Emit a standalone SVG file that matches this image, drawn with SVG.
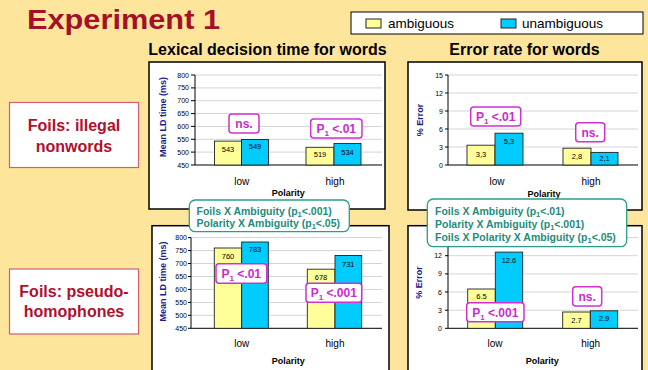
<svg xmlns="http://www.w3.org/2000/svg" width="648" height="370" viewBox="0 0 648 370">
<style>
.bg{fill:#fde69b}
.frame{fill:#fff;stroke:#000;stroke-width:1.5}
.grid{stroke:#d4d4d4;stroke-width:1}
.axis{stroke:#000;stroke-width:1;fill:none}
.ya{fill:#ffff99;stroke:#222;stroke-width:0.9}
.yb{fill:#00ccff;stroke:#222;stroke-width:0.9}
.tick{font-family:"Liberation Sans",Arial,sans-serif;font-size:7px;fill:#000;text-anchor:end}
.val{font-family:"Liberation Sans",Arial,sans-serif;font-size:7.5px;fill:#000;text-anchor:middle}
.cat{font-family:"Liberation Sans",Arial,sans-serif;font-size:10px;fill:#000;text-anchor:middle}
.xl{font-family:"Liberation Sans",Arial,sans-serif;font-size:9px;font-weight:bold;fill:#000;text-anchor:middle}
.yl{font-family:"Liberation Sans",Arial,sans-serif;font-size:9px;font-weight:bold;fill:#1c1c8c;text-anchor:middle}
.sub{font-family:"Liberation Sans",Arial,sans-serif;font-size:16px;font-weight:bold;fill:#000;text-anchor:middle}
.mbox{fill:#fff;stroke:#d030d0;stroke-width:1.5}
.mtxt{font-family:"Liberation Sans",Arial,sans-serif;font-size:12px;font-weight:bold;fill:#cc2acc;text-anchor:middle}
.gbox{fill:#fff;stroke:#2a9d8c;stroke-width:1.3}
.gtxt{font-family:"Liberation Sans",Arial,sans-serif;font-size:10.5px;font-weight:bold;fill:#1e8c7c}
.rbox{fill:#fff;stroke:#d06070;stroke-width:1.2}
.rtxt{font-family:"Liberation Sans",Arial,sans-serif;font-size:16px;font-weight:bold;fill:#b0102c;text-anchor:middle}
.leg{font-family:"Liberation Sans",Arial,sans-serif;font-size:13.5px;fill:#000}
</style>
<rect class="bg" x="0" y="0" width="648" height="370"/>

<g id="title">
<text x="27" y="28.5" font-family="'Liberation Sans',Arial,sans-serif" font-size="28" font-weight="bold" fill="#a4102a" textLength="193" lengthAdjust="spacingAndGlyphs">Experiment 1</text>
</g>

<g id="legend">
<rect x="351" y="12" width="292" height="22" fill="#fff" stroke="#000" stroke-width="1"/>
<rect x="366" y="19" width="15" height="9" fill="#ffff99" stroke="#222" stroke-width="1"/>
<text class="leg" x="388" y="28">ambiguous</text>
<rect x="501" y="19" width="15" height="9" fill="#00ccff" stroke="#222" stroke-width="1"/>
<text class="leg" x="522" y="28">unambiguous</text>
</g>

<g id="subtitles">
<text class="sub" x="267.5" y="55">Lexical decision time for words</text>
<text class="sub" x="524.5" y="55">Error rate for words</text>
</g>

<g id="row-illegal">
<rect class="rbox" x="9.5" y="102.5" width="129" height="65"/>
<text class="rtxt" x="74" y="130.5">Foils: illegal</text>
<text class="rtxt" x="74" y="151.5">nonwords</text>
</g>

<g id="row-pseudo">
<rect class="rbox" x="9.5" y="269" width="129" height="65"/>
<text class="rtxt" x="74" y="296.5">Foils: pseudo-</text>
<text class="rtxt" x="74" y="316.5">homophones</text>
</g>

<!-- Chart 1 -->
<g id="chart-ld-illegal">
<rect class="frame" x="149" y="62" width="236" height="147"/>
<g class="grid">
<line x1="195" y1="152.1" x2="382" y2="152.1"/>
<line x1="195" y1="139.3" x2="382" y2="139.3"/>
<line x1="195" y1="126.4" x2="382" y2="126.4"/>
<line x1="195" y1="113.6" x2="382" y2="113.6"/>
<line x1="195" y1="100.7" x2="382" y2="100.7"/>
<line x1="195" y1="87.9" x2="382" y2="87.9"/>
<line x1="195" y1="75" x2="382" y2="75"/>
</g>
<path class="axis" d="M195,75 V165 H382 M191,75 H195 M191,87.9 H195 M191,100.7 H195 M191,113.6 H195 M191,126.4 H195 M191,139.3 H195 M191,152.1 H195 M191,165 H195"/>
<text class="tick" x="189" y="77.5">800</text>
<text class="tick" x="189" y="90.4">750</text>
<text class="tick" x="189" y="103.2">700</text>
<text class="tick" x="189" y="116.1">650</text>
<text class="tick" x="189" y="128.9">600</text>
<text class="tick" x="189" y="141.8">550</text>
<text class="tick" x="189" y="154.6">500</text>
<text class="tick" x="189" y="167.5">450</text>
<rect class="ya" x="214.5" y="141.1" width="27" height="23.9"/>
<rect class="yb" x="241.5" y="139.5" width="27" height="25.5"/>
<rect class="ya" x="306" y="147.3" width="28" height="17.7"/>
<rect class="yb" x="334" y="143.4" width="27" height="21.6"/>
<text class="val" x="228" y="152">543</text>
<text class="val" x="255" y="148.5">549</text>
<text class="val" x="320" y="157">519</text>
<text class="val" x="347.5" y="154.5">534</text>
<text class="cat" x="241.7" y="184.5">low</text>
<text class="cat" x="335" y="184.5">high</text>
<text class="xl" x="288.3" y="195.5">Polarity</text>
<text class="yl" transform="translate(166,117) rotate(-90)">Mean LD time (ms)</text>
</g>

<!-- Chart 2 -->
<g id="chart-err-illegal">
<rect class="frame" x="408" y="62" width="234" height="148"/>
<g class="grid">
<line x1="448" y1="147" x2="638" y2="147"/>
<line x1="448" y1="129" x2="638" y2="129"/>
<line x1="448" y1="111" x2="638" y2="111"/>
<line x1="448" y1="93" x2="638" y2="93"/>
<line x1="448" y1="75" x2="638" y2="75"/>
</g>
<path class="axis" d="M448,75 V165 H638 M445,75 H448 M445,93 H448 M445,111 H448 M445,129 H448 M445,147 H448 M445,165 H448"/>
<text class="tick" x="443" y="77.5">15</text>
<text class="tick" x="443" y="95.5">12</text>
<text class="tick" x="443" y="113.5">9</text>
<text class="tick" x="443" y="131.5">6</text>
<text class="tick" x="443" y="149.5">3</text>
<text class="tick" x="443" y="167.5">0</text>
<rect class="ya" x="467" y="145.2" width="28" height="19.8"/>
<rect class="yb" x="495" y="133.2" width="28" height="31.8"/>
<rect class="ya" x="563" y="148.2" width="28" height="16.8"/>
<rect class="yb" x="591" y="152.4" width="27" height="12.6"/>
<text class="val" x="481" y="156.5">3,3</text>
<text class="val" x="509" y="143.5">5,3</text>
<text class="val" x="577" y="158.5">2,8</text>
<text class="val" x="604.5" y="161">2,1</text>
<text class="cat" x="497" y="184.5">low</text>
<text class="cat" x="591" y="184.5">high</text>
<text class="xl" x="544" y="196.5">Polarity</text>
<text class="yl" transform="translate(423,120) rotate(-90)">% Error</text>
</g>

<!-- Chart 3 -->
<g id="chart-ld-pseudo">
<rect class="frame" x="152" y="225.7" width="237" height="150"/>
<g class="grid">
<line x1="191" y1="315.3" x2="382" y2="315.3"/>
<line x1="191" y1="302.4" x2="382" y2="302.4"/>
<line x1="191" y1="289.4" x2="382" y2="289.4"/>
<line x1="191" y1="276.5" x2="382" y2="276.5"/>
<line x1="191" y1="263.5" x2="382" y2="263.5"/>
<line x1="191" y1="250.6" x2="382" y2="250.6"/>
<line x1="191" y1="237.6" x2="382" y2="237.6"/>
</g>
<path class="axis" d="M191,237.6 V328.3 H382 M188,237.6 H191 M188,250.6 H191 M188,263.5 H191 M188,276.5 H191 M188,289.4 H191 M188,302.4 H191 M188,315.3 H191 M188,328.3 H191"/>
<text class="tick" x="187" y="240.1">800</text>
<text class="tick" x="187" y="253.1">750</text>
<text class="tick" x="187" y="266">700</text>
<text class="tick" x="187" y="279">650</text>
<text class="tick" x="187" y="291.9">600</text>
<text class="tick" x="187" y="304.9">550</text>
<text class="tick" x="187" y="317.8">500</text>
<text class="tick" x="187" y="330.8">450</text>
<rect class="ya" x="214.3" y="248" width="27.4" height="80.3"/>
<rect class="yb" x="241.7" y="242" width="26.6" height="86.3"/>
<rect class="ya" x="307.3" y="269.2" width="27.7" height="59.1"/>
<rect class="yb" x="335" y="255.5" width="26.7" height="72.8"/>
<text class="val" x="228" y="258.5">760</text>
<text class="val" x="255" y="252">783</text>
<text class="val" x="321" y="279.5">678</text>
<text class="val" x="348.3" y="266.5">731</text>
<text class="cat" x="241.7" y="346.5">low</text>
<text class="cat" x="335" y="346.5">high</text>
<text class="xl" x="288.3" y="364">Polarity</text>
<text class="yl" transform="translate(165.5,281.5) rotate(-90)">Mean LD time (ms)</text>
</g>

<!-- Chart 4 -->
<g id="chart-err-pseudo">
<rect class="frame" x="408" y="225.7" width="234" height="150"/>
<g class="grid">
<line x1="448" y1="310.2" x2="638" y2="310.2"/>
<line x1="448" y1="292" x2="638" y2="292"/>
<line x1="448" y1="273.9" x2="638" y2="273.9"/>
<line x1="448" y1="255.7" x2="638" y2="255.7"/>
<line x1="448" y1="237.5" x2="638" y2="237.5"/>
</g>
<path class="axis" d="M448,237.5 V328.3 H638 M445,237.5 H448 M445,255.7 H448 M445,273.9 H448 M445,292 H448 M445,310.2 H448 M445,328.3 H448"/>
<text class="tick" x="442" y="258.2">12</text>
<text class="tick" x="442" y="276.4">9</text>
<text class="tick" x="442" y="294.5">6</text>
<text class="tick" x="442" y="312.7">3</text>
<text class="tick" x="442" y="330.8">0</text>
<rect class="ya" x="467.7" y="289" width="27.6" height="39.3"/>
<rect class="yb" x="495.3" y="252.1" width="27.4" height="76.2"/>
<rect class="ya" x="562.7" y="312" width="27.6" height="16.3"/>
<rect class="yb" x="590.3" y="310.8" width="27.4" height="17.5"/>
<text class="val" x="481.5" y="298.5">6.5</text>
<text class="val" x="509" y="262.5">12.6</text>
<text class="val" x="576.5" y="323.3">2.7</text>
<text class="val" x="604" y="321">2.9</text>
<text class="cat" x="495" y="346.5">low</text>
<text class="cat" x="590.7" y="346.5">high</text>
<text class="xl" x="542.3" y="364">Polarity</text>
<text class="yl" transform="translate(422,282.5) rotate(-90)">% Error</text>
</g>

<!-- significance annotations -->
<g id="ann-c1-low">
<rect class="mbox" x="229" y="114" width="30" height="19" rx="3"/>
<text class="mtxt" x="244" y="128">ns.</text>
</g>
<g id="ann-c1-high">
<rect class="mbox" x="310.7" y="119" width="51.3" height="19" rx="3"/>
<text class="mtxt" x="336.3" y="133">P<tspan font-size="8" dy="3">1</tspan><tspan dy="-3"> &lt;.01</tspan></text>
</g>
<g id="ann-c2-low">
<rect class="mbox" x="470.7" y="107" width="50" height="19" rx="3"/>
<text class="mtxt" x="495.7" y="121">P<tspan font-size="8" dy="3">1</tspan><tspan dy="-3"> &lt;.01</tspan></text>
</g>
<g id="ann-c2-high">
<rect class="mbox" x="575.7" y="122.7" width="29" height="19" rx="3"/>
<text class="mtxt" x="590.2" y="136.5">ns.</text>
</g>
<g id="ann-c3-low">
<rect class="mbox" x="216" y="263.7" width="50.7" height="19.6" rx="3"/>
<text class="mtxt" x="241.3" y="278">P<tspan font-size="8" dy="3">1</tspan><tspan dy="-3"> &lt;.01</tspan></text>
</g>
<g id="ann-c3-high">
<rect class="mbox" x="306" y="283.3" width="55.7" height="19" rx="3"/>
<text class="mtxt" x="333.8" y="297.3">P<tspan font-size="8" dy="3">1</tspan><tspan dy="-3"> &lt;.001</tspan></text>
</g>
<g id="ann-c4-low">
<rect class="mbox" x="466.7" y="302.7" width="57.3" height="19" rx="3"/>
<text class="mtxt" x="495.3" y="316.7">P<tspan font-size="8" dy="3">1</tspan><tspan dy="-3"> &lt;.001</tspan></text>
</g>
<g id="ann-c4-high">
<rect class="mbox" x="572.7" y="286.7" width="29" height="19.3" rx="3"/>
<text class="mtxt" x="587.2" y="300.7">ns.</text>
</g>

<g id="stats-ld">
<rect class="gbox" x="189.3" y="200" width="160" height="31.7" rx="6"/>
<text class="gtxt" x="196.5" y="214.5">Foils X Ambiguity (p<tspan font-size="7.5" dy="2">1</tspan><tspan dy="-2">&lt;.001)</tspan></text>
<text class="gtxt" x="196.5" y="227">Polarity X Ambiguity (p<tspan font-size="7.5" dy="2">1</tspan><tspan dy="-2">&lt;.05)</tspan></text>
</g>

<g id="stats-err">
<rect class="gbox" x="427.3" y="199" width="199.4" height="47.7" rx="6"/>
<text class="gtxt" x="435" y="214.5">Foils X Ambiguity (p<tspan font-size="7.5" dy="2">1</tspan><tspan dy="-2">&lt;.01)</tspan></text>
<text class="gtxt" x="435" y="227.5">Polarity X Ambiguity (p<tspan font-size="7.5" dy="2">1</tspan><tspan dy="-2">&lt;.001)</tspan></text>
<text class="gtxt" x="435" y="240.5">Foils X Polarity X Ambiguity (p<tspan font-size="7.5" dy="2">1</tspan><tspan dy="-2">&lt;.05)</tspan></text>
</g>
</svg>
